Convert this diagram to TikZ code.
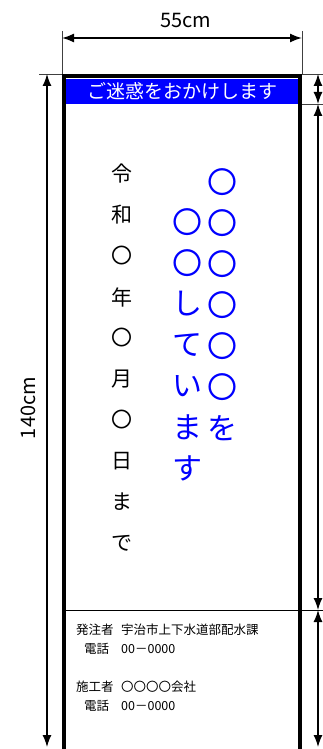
\documentclass[tikz,border=0pt]{standalone}
\usepackage{fontspec}
\setmainfont{Noto Sans CJK JP}
\usetikzlibrary{arrows.meta}
\tikzset{>={Latex[length=12pt,width=9pt]}}

\begin{document}
\begin{tikzpicture}[x=1pt,y=-1pt,
	dimline/.style={<->,line width=1.3pt},
	extline/.style={line width=0.8pt,black!75},
	datechar/.style={font=\fontsize{21}{21}\selectfont,inner sep=0pt},
	bluechar/.style={font=\fontsize{30}{30}\selectfont,text=blue,inner sep=0pt},
	infotext/.style={anchor=west,font=\fontsize{12.5}{12.5}\selectfont,inner sep=0pt}]
	\useasboundingbox (0,0) rectangle (323,749);
	\clip (0,0) rectangle (323,749);

	% extension lines
	\coordinate (el) at (62,31);
	\coordinate (elb) at (62,74);
	\coordinate (er) at (302,31);
	\coordinate (erb) at (302,74);
	\coordinate (tl) at (39,74);
	\coordinate (tr) at (323,74);
	\coordinate (bl) at (300,104);
	\coordinate (br) at (323,104);
	\coordinate (dl) at (64,610);
	\coordinate (dr) at (323,610);
	\draw[extline] (el) -- (elb);
	\draw[extline] (er) -- (erb);
	\draw[extline] (tl) -- (tr);
	\draw[extline] (bl) -- (br);
	\draw[line width=1pt] (dl) -- (dr);

	% sign board
	\node[fill=blue,text=white,minimum width=232pt,minimum height=25pt,inner sep=0pt,
		font=\fontsize{19}{19}\selectfont] (title) at (182,91.5) {ご迷惑をおかけします};
	\draw[line width=4pt] (64,760) -- (64,76) -- (300,76) -- (300,760);

	% dimensions
	\coordinate (wl) at (62,38);
	\coordinate (wr) at (302,38);
	\draw[dimline,line width=1.6pt] (wl) -- (wr);
	\node[font=\fontsize{20}{20}\selectfont] (wlab) at (186,21) {55cm};

	\coordinate (ht) at (47,74);
	\coordinate (hb) at (47,747);
	\draw[dimline] (ht) -- (hb);
	\node[rotate=90,font=\fontsize{20}{20}\selectfont] (hlab) at (28,408) {140cm};

	\coordinate (r0) at (318,74);
	\coordinate (r1) at (318,104);
	\coordinate (r2) at (318,610);
	\coordinate (r3) at (318,747);
	\draw[dimline] (r0) -- (r1);
	\draw[dimline] (r1) -- (r2);
	\draw[dimline] (r2) -- (r3);

	% vertical texts
	\foreach \c [count=\i] in {令,和,〇,年,〇,月,〇,日,ま,で}
		\node[datechar] (d\i) at (122,{174+41*(\i-1)}) {\c};
	\foreach \c [count=\i] in {〇,〇,〇,〇,〇,〇,を}
		\node[bluechar] (m\i) at (222,{182+41*(\i-1)}) {\c};
	\foreach \c [count=\i] in {〇,〇,し,て,い,ま,す}
		\node[bluechar] (n\i) at (187,{222+41*(\i-1)}) {\c};

	% contact block
	\node[infotext] (o1) at (76,630) {発注者};
	\node[infotext] (o2) at (121,630) {宇治市上下水道部配水課};
	\node[infotext] (o3) at (84,649) {電話};
	\node[infotext] (o4) at (121,649) {00－0000};
	\node[infotext] (c1) at (76,687) {施工者};
	\node[infotext] (c2) at (121,687) {〇〇〇〇会社};
	\node[infotext] (c3) at (84,706) {電話};
	\node[infotext] (c4) at (121,706) {00－0000};
\end{tikzpicture}
\end{document}
